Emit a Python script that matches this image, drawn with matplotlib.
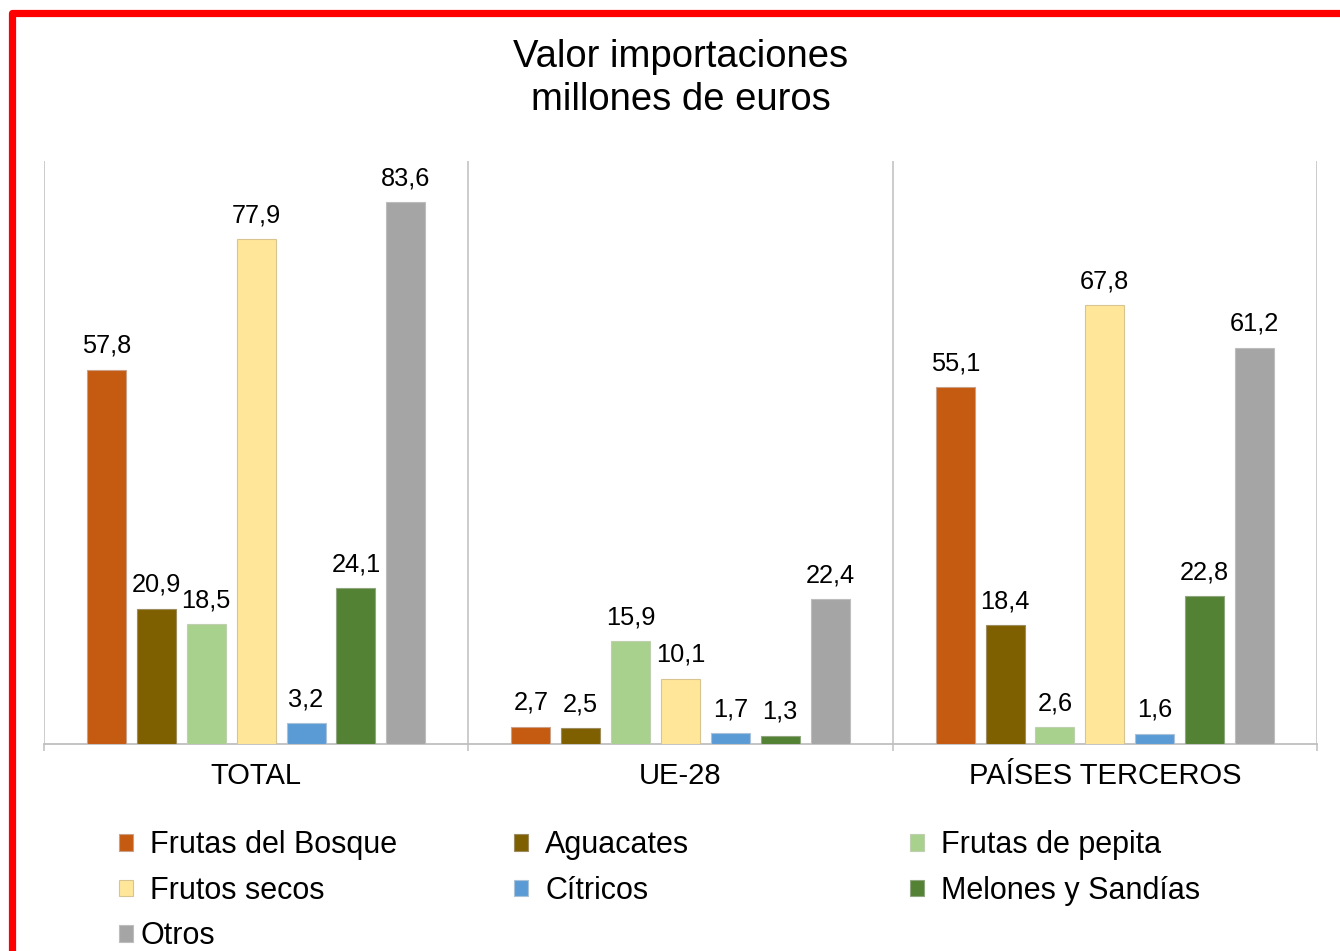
import matplotlib
matplotlib.use("Agg")
import matplotlib.pyplot as plt
from matplotlib.patches import Rectangle
import numpy as np

plt.rcParams['font.family'] = ['Liberation Sans', 'DejaVu Sans']

categories = ['TOTAL', 'UE-28', 'PAÍSES TERCEROS']
series_names = ['Frutas del Bosque', 'Aguacates', 'Frutas de pepita', 'Frutos secos',
                'Cítricos', 'Melones y Sandías', 'Otros']
frutas_bosque = [57.8, 2.7, 55.1]
aguacates = [20.9, 2.5, 18.4]
frutas_pepita = [18.5, 15.9, 2.6]
frutos_secos = [77.9, 10.1, 67.8]
citricos = [3.2, 1.7, 1.6]
melones = [24.1, 1.3, 22.8]
otros = [83.6, 22.4, 61.2]
series_values = [frutas_bosque, aguacates, frutas_pepita, frutos_secos, citricos, melones, otros]
colors = ['#C55A11', '#7F6000', '#A9D18E', '#FFE699', '#5B9BD5', '#548235', '#A5A5A5']
edges = ['#C9A088', '#9C8C60', '#BFD0B0', '#D8C490', '#A9C2DA', '#8FA67E', '#BDBDBD']

W, H = 1340, 951
fig = plt.figure(figsize=(W / 100, H / 100), dpi=100)
fig.patch.set_facecolor('white')

ax = fig.add_axes([44 / W, 1 - 744 / H, (1317 - 44) / W, (744 - 161) / H])
x = np.arange(len(categories))
step = 0.1175
width = 0.092
bars_all = []
for i, (name, vals, c, ec) in enumerate(zip(series_names, series_values, colors, edges)):
    pos = x + (i - 3) * step
    bars = ax.bar(pos, vals, width=width, color=c, edgecolor=ec, linewidth=0.8,
                  label=name, zorder=3)
    bars_all.append(bars)
    for xp, v in zip(pos, vals):
        ax.annotate(f"{v:.1f}".replace('.', ','), xy=(xp, v), xytext=(0, 12),
                    textcoords='offset points', ha='center', va='baseline',
                    fontsize=18.3, color='#000000')

ax.set_xlim(-0.5, 2.5)
ax.set_ylim(0, 90)
ax.set_yticks([])
ax.set_xticks([-0.5, 0.5, 1.5, 2.5])
ax.set_xticklabels([])
ax.tick_params(axis='x', length=5, width=1.1, color='#BFBFBF', direction='out')
ax.grid(axis='x', color='#BFBFBF', linewidth=1.1, zorder=0)
for s in ['top', 'right', 'left']:
    ax.spines[s].set_visible(False)
ax.spines['bottom'].set_color('#BFBFBF')
ax.spines['bottom'].set_linewidth(1.3)
ax.set_facecolor('white')

for xi, cat in zip(x, categories):
    ax.annotate(cat, xy=(xi, 0), xycoords=('data', 'axes fraction'), xytext=(0, -29),
                textcoords='offset points', ha='center', va='baseline', fontsize=21,
                color='#000000')

# Title
fig.text(680.5 / W, 1 - 67 / H, 'Valor importaciones', ha='center', va='baseline',
         fontsize=27.5, color='#000000')
fig.text(680.5 / W, 1 - 110 / H, 'millones de euros', ha='center', va='baseline',
         fontsize=27.5, color='#000000')

# Legend in three columns
handles = [b[0] for b in bars_all]
legend_top = 830
row_gap = 45.5
groups = [([0, 3], 119, legend_top, 0.55), ([1, 4], 514, legend_top, 0.55),
          ([2, 5], 910, legend_top, 0.55), ([6], 119, legend_top + 2 * row_gap, 0.25)]
for idx, xpx, ypx, pad in groups:
    fig.legend([handles[k] for k in idx], [series_names[k] for k in idx],
               loc='upper left', bbox_to_anchor=(xpx / W, 1 - ypx / H),
               frameon=False, fontsize=22, borderpad=0, borderaxespad=0,
               handlelength=0.47, handleheight=0.47, handletextpad=pad,
               labelspacing=0.52)

# Red frame (cropped at right and bottom)
frame = Rectangle((12.5 / W, -0.2), 1.5, 1 - 12.5 / H + 0.2, transform=fig.transFigure,
                  fill=False, edgecolor='#FF0000', linewidth=5.2, joinstyle='round',
                  clip_on=False)
fig.add_artist(frame)

fig.savefig('out.png', dpi=100, facecolor='white')
